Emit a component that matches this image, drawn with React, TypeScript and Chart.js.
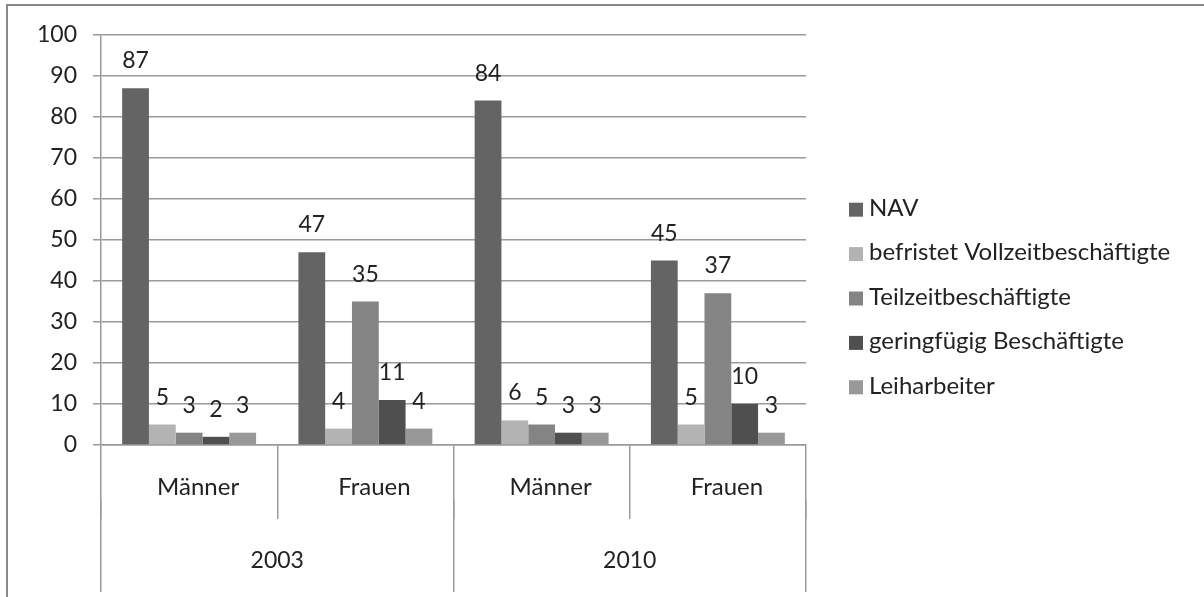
import React, { useEffect, useRef } from 'react';
import { Chart, registerables } from 'chart.js';

Chart.register(...registerables);

// ---- data ----
const categories = ['Männer', 'Frauen', 'Männer', 'Frauen'];
const years = ['2003', '2010'];
const seriesNames = [
  'NAV',
  'befristet Vollzeitbeschäftigte',
  'Teilzeitbeschäftigte',
  'geringfügig Beschäftigte',
  'Leiharbeiter',
];
const navValues = [87, 47, 84, 45];
const befristetValues = [5, 4, 6, 5];
const teilzeitValues = [3, 35, 5, 37];
const geringfuegigValues = [2, 11, 3, 10];
const leiharbeiterValues = [3, 4, 3, 3];
const yMin = 0;
const yMax = 100;
const yStep = 10;

// ---- styles ----
const seriesColors = ['#646464', '#b3b3b3', '#848484', '#4f4f4f', '#989898'];
const FONT = 'Lato';
const FONT_SIZE = 23;
const TEXT_FONT_SIZE = 24;
const TEXT = '#222222';
const LINE = '#9a9a9a';

// value labels above each bar
const valueLabels = {
  id: 'valueLabels',
  afterDatasetsDraw(chart: any) {
    const ctx = chart.ctx;
    ctx.save();
    ctx.font = `${FONT_SIZE}px ${FONT}`;
    ctx.fillStyle = TEXT;
    ctx.textAlign = 'center';
    ctx.textBaseline = 'alphabetic';
    chart.data.datasets.forEach((ds: any, i: number) => {
      const meta = chart.getDatasetMeta(i);
      meta.data.forEach((bar: any, j: number) => {
        ctx.fillText(String(ds.data[j]), bar.x, bar.y - 20);
      });
    });
    ctx.restore();
  },
};

// legend drawn to the right of the plot, from the datasets
const sideLegend = {
  id: 'sideLegend',
  afterDraw(chart: any) {
    const ctx = chart.ctx;
    const area = chart.chartArea;
    const boxX = area.right + 43;
    const box = 14;
    const textX = boxX + box + 6;
    const step = 44.4;
    const n = chart.data.datasets.length;
    const firstY = 298 - ((n - 1) * step) / 2;
    ctx.save();
    ctx.font = `${TEXT_FONT_SIZE}px ${FONT}`;
    ctx.textAlign = 'left';
    ctx.textBaseline = 'middle';
    chart.data.datasets.forEach((ds: any, i: number) => {
      const cy = firstY + i * step;
      ctx.fillStyle = ds.backgroundColor;
      ctx.fillRect(boxX, cy - box / 2 + 0.5, box, box);
      ctx.fillStyle = TEXT;
      ctx.fillText(ds.label, textX, cy - 1);
    });
    ctx.restore();
  },
};

export default function App() {
  const ref = useRef<HTMLCanvasElement | null>(null);

  useEffect(() => {
    if (!ref.current) return;
    const allValues = [navValues, befristetValues, teilzeitValues, geringfuegigValues, leiharbeiterValues];
    const chart = new Chart(ref.current, {
      type: 'bar',
      data: {
        labels: categories,
        datasets: seriesNames.map((name, i) => ({
          label: name,
          data: allValues[i],
          backgroundColor: seriesColors[i],
          borderWidth: 0,
          categoryPercentage: 0.76,
          barPercentage: 1,
          xAxisID: 'x',
          yAxisID: 'y',
        })),
      },
      options: {
        responsive: false,
        animation: false,
        events: [],
        layout: { padding: { left: 0, top: 35, right: 398, bottom: 0 } },
        font: { family: FONT, size: FONT_SIZE },
        color: TEXT,
        plugins: {
          tooltip: { enabled: false },
          title: { display: false },
          legend: { display: false },
        },
        scales: {
          x: {
            type: 'category',
            position: 'bottom',
            offset: true,
            weight: 0,
            grid: {
              display: true,
              offset: true,
              drawOnChartArea: false,
              drawTicks: true,
              tickLength: 74,
              color: LINE,
              lineWidth: 1.5,
            },
            border: { display: true, color: LINE, width: 1.5 },
            ticks: {
              color: TEXT,
              font: { family: FONT, size: TEXT_FONT_SIZE },
              padding: -46.4,
              labelOffset: 9,
              maxRotation: 0,
              minRotation: 0,
              autoSkip: false,
            },
            afterFit: (s: any) => {
              s.height = 55;
            },
          },
          x2: {
            type: 'category',
            labels: years,
            position: 'bottom',
            offset: true,
            weight: 1,
            grid: {
              display: true,
              offset: true,
              drawOnChartArea: false,
              drawTicks: true,
              tickLength: 92,
              color: LINE,
              lineWidth: 1.5,
            },
            border: { display: false },
            ticks: {
              color: TEXT,
              font: { family: FONT, size: FONT_SIZE },
              padding: -45.3,
              maxRotation: 0,
              minRotation: 0,
              autoSkip: false,
            },
            afterFit: (s: any) => {
              s.height = 97;
            },
          },
          y: {
            type: 'linear',
            position: 'left',
            min: yMin,
            max: yMax,
            ticks: {
              stepSize: yStep,
              color: TEXT,
              font: { family: FONT, size: FONT_SIZE },
              padding: 16,
            },
            grid: {
              color: LINE,
              lineWidth: 1.5,
              tickLength: 8,
              drawTicks: true,
            },
            border: { display: true, color: LINE, width: 1.5 },
            afterFit: (s: any) => {
              s.width = 101;
            },
          },
        },
      } as any,
      plugins: [valueLabels, sideLegend],
    });
    return () => chart.destroy();
  }, []);

  return (
    <div
      style={{
        position: 'fixed',
        left: 0,
        top: 0,
        width: 1204,
        height: 597,
        background: '#ffffff',
        overflow: 'hidden',
      }}
    >
      <div
        style={{
          position: 'absolute',
          left: 6,
          top: 4,
          right: -10,
          bottom: -10,
          borderTop: '2px solid #888888',
          borderLeft: '2px solid #888888',
        }}
      />
      <canvas
        ref={ref}
        width={1204}
        height={597}
        style={{ position: 'absolute', left: 0, top: 0, width: 1204, height: 597 }}
      />
    </div>
  );
}
